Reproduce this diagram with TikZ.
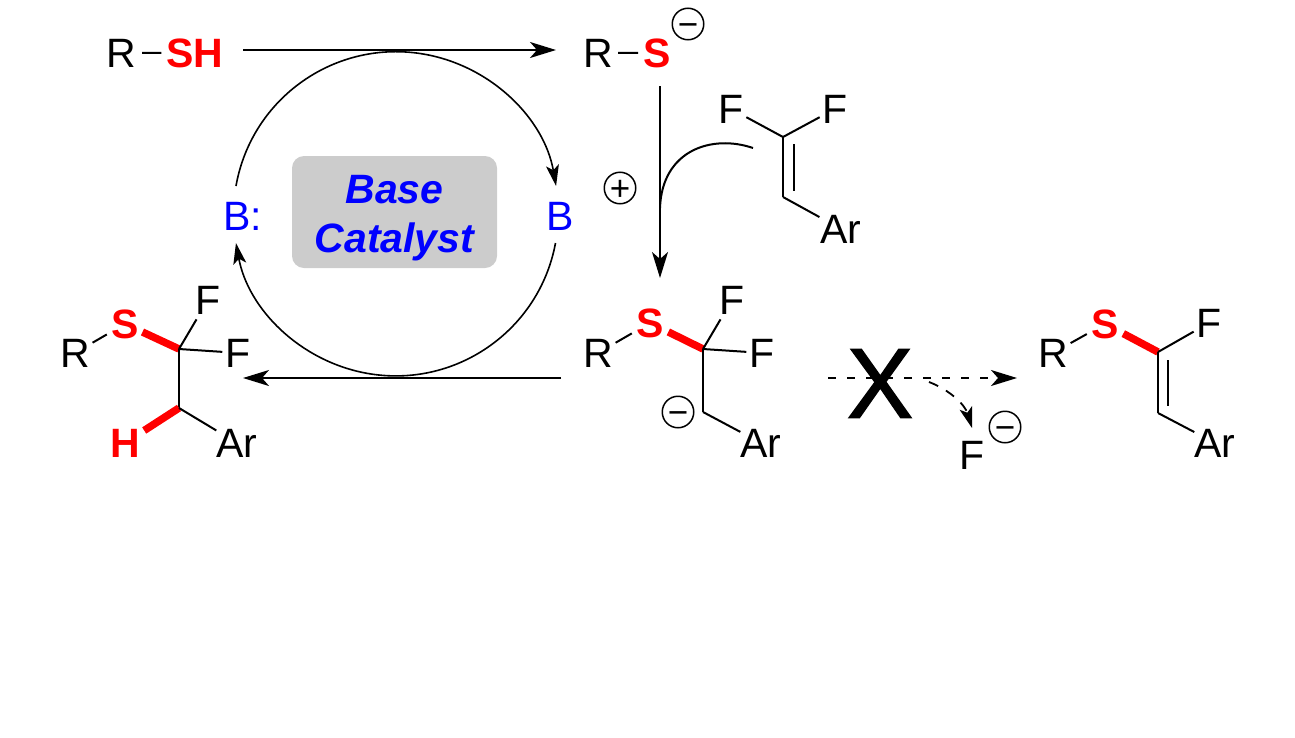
\documentclass[tikz,border=0pt]{standalone}
\usepackage{fontspec}
\setmainfont{Liberation Sans}
\usetikzlibrary{arrows.meta}
\definecolor{rd}{HTML}{FF0000}
\definecolor{bl}{HTML}{0000FF}
\definecolor{gy}{HTML}{CCCCCC}
\tikzset{
  x=1pt,y=-1pt,
  atom/.style={inner sep=0pt,anchor=base,font=\fontsize{41}{41}\selectfont},
  redatom/.style={atom,text=rd,font=\fontsize{41}{41}\selectfont\bfseries},
  blueatom/.style={atom,text=bl},
  charge/.style={circle,draw,line width=1.5pt,minimum size=31pt,inner sep=0pt,text height=24pt,text depth=0pt,font=\fontsize{35}{35}\selectfont},
  bond/.style={line width=2pt},
  boldbond/.style={line width=7.5pt,draw=rd},
  bigtip/.style={-{Stealth[length=26pt,width=16pt,inset=7pt]}},
  smalltip/.style={-{Stealth[length=21pt,width=13pt,inset=5pt]}},
  arr/.style={line width=2pt,bigtip},
  cyc/.style={line width=1.6pt,smalltip},
  dasharr/.style={line width=2pt,dash pattern=on 8pt off 11pt,bigtip},
  dashcurve/.style={line width=1.8pt,dash pattern=on 10pt off 9pt,smalltip},
}
\begin{document}
\begin{tikzpicture}
\useasboundingbox (0,0) rectangle (1295,737);
% catalyst
\node[fill=gy,rounded corners=12pt,minimum width=205pt,minimum height=112pt,inner sep=0pt,
      align=center,text=bl,font=\fontsize{41}{49}\selectfont\bfseries\itshape] (cat) at (394.5,212) {\rule{0pt}{39.5pt}Base\\Catalyst};
\node[blueatom] (bh) at (243,230) {B:};
\node[blueatom] (bp) at (560,230) {B};
% cycle arcs
\coordinate (cycA) at (236,186);
\coordinate (cycB) at (555.5,243);
\draw[cyc] (cycA) arc[start angle=170,end angle=10,radius=162.5pt];
\draw[cyc] (cycB) arc[start angle=-10.5,end angle=-169.5,radius=162.5pt];
% thiol
\node[atom] (r1) at (121,67) {R};
\node[redatom] (sh) at (195,67) {SH};
\draw[bond,shorten <=6pt,shorten >=5pt] (r1.east) -- (sh.west);
% thiolate
\node[atom] (r2) at (598,67) {R};
\node[redatom] (s2) at (657,67) {S};
\draw[bond,shorten <=5pt,shorten >=5pt] (r2.east) -- (s2.west);
\node[charge] (c1) at (688,24) {−};
% main arrows
\coordinate (a1s) at (243,50);
\coordinate (a1e) at (556,50);
\draw[arr] (a1s) -- (a1e);
\coordinate (a2s) at (660,86);
\coordinate (a2e) at (660,278);
\draw[arr] (a2s) -- (a2e);
\coordinate (a3s) at (561,378);
\coordinate (a3e) at (243,378);
\draw[arr] (a3s) -- (a3e);
% alkene
\node[atom] (f1) at (731,123) {F};
\node[atom] (f2) at (835,123) {F};
\node[atom] (ar1) at (841,243) {Ar};
\coordinate (c1a) at (783,137);
\coordinate (c1b) at (783,197);
\coordinate (d1a) at (794,144);
\coordinate (d1b) at (794,191);
\draw[bond,shorten >=3pt] (c1a) -- (f1);
\draw[bond,shorten >=3pt] (c1a) -- (f2);
\draw[bond] (c1a) -- (c1b);
\draw[bond] (d1a) -- (d1b);
\draw[bond,shorten >=1pt] (c1b) -- (ar1);
% addition curve and plus
\coordinate (cv1) at (753,148);
\coordinate (cv2) at (660,208);
\draw[bond] (cv1) .. controls (712,134) and (662,150) .. (cv2);
\node[charge] (c2) at (620,188) {+};
% left product
\node[atom] (lr) at (75,367) {R};
\node[redatom] (ls) at (125,338) {S};
\node[atom] (lf1) at (208,314) {F};
\node[atom] (lf2) at (238,367) {F};
\node[redatom] (lh) at (125,457) {H};
\node[atom] (lar) at (237,457) {Ar};
\coordinate (lc1) at (179,349);
\coordinate (lc2) at (179,408);
\draw[bond,shorten <=3pt,shorten >=5pt] (lr) -- (ls);
\draw[boldbond,shorten <=4pt] (ls) -- (lc1);
\draw[bond,shorten >=6pt] (lc1) -- (lf1);
\draw[bond,shorten >=3pt] (lc1) -- (lf2);
\draw[bond] (lc1) -- (lc2);
\draw[boldbond,shorten >=5pt] (lc2) -- (lh);
\draw[bond] (lc2) -- (lar);
% middle intermediate
\node[atom] (mr) at (598,367) {R};
\node[redatom] (ms) at (650,337) {S};
\node[atom] (mf1) at (732,314) {F};
\node[atom] (mf2) at (762,367) {F};
\node[atom] (mar) at (761,457) {Ar};
\node[charge] (c3) at (678,412) {−};
\coordinate (mc1) at (703,349);
\coordinate (mc2) at (703,412);
\draw[bond,shorten <=3pt,shorten >=5pt] (mr) -- (ms);
\draw[boldbond,shorten <=5pt] (ms) -- (mc1);
\draw[bond,shorten >=6pt] (mc1) -- (mf1);
\draw[bond,shorten >=3pt] (mc1) -- (mf2);
\draw[bond] (mc1) -- (mc2);
\draw[bond] (mc2) -- (mar);
% blocked path
\coordinate (b1s) at (828,378);
\coordinate (b1e) at (1017,378);
\draw[dasharr] (b1s) -- (b1e);
\node[inner sep=0pt,font=\fontsize{99}{99}\selectfont\addfontfeature{FakeBold=1.5}] (xx) at (880,383.5) {X};
\coordinate (b2s) at (929,382);
\node[atom] (ff) at (972,469) {F};
\node[charge] (c4) at (1005,427) {−};
\coordinate (b2e) at (972,428);
\draw[dashcurve] (b2s) .. controls (950,390) and (965,405) .. (b2e);
% right product
\node[atom] (rr) at (1053,367) {R};
\node[redatom] (rs) at (1105,338) {S};
\node[atom] (rf) at (1209,337) {F};
\node[atom] (rar) at (1215,457) {Ar};
\coordinate (rc1) at (1158,352);
\coordinate (rc2) at (1158,413);
\coordinate (rd1) at (1168,360);
\coordinate (rd2) at (1168,406);
\draw[bond,shorten <=3pt,shorten >=5pt] (rr) -- (rs);
\draw[boldbond,shorten <=5pt] (rs) -- (rc1);
\draw[bond,shorten >=3pt] (rc1) -- (rf);
\draw[bond] (rc1) -- (rc2);
\draw[bond] (rd1) -- (rd2);
\draw[bond] (rc2) -- (rar);
\end{tikzpicture}
\end{document}
